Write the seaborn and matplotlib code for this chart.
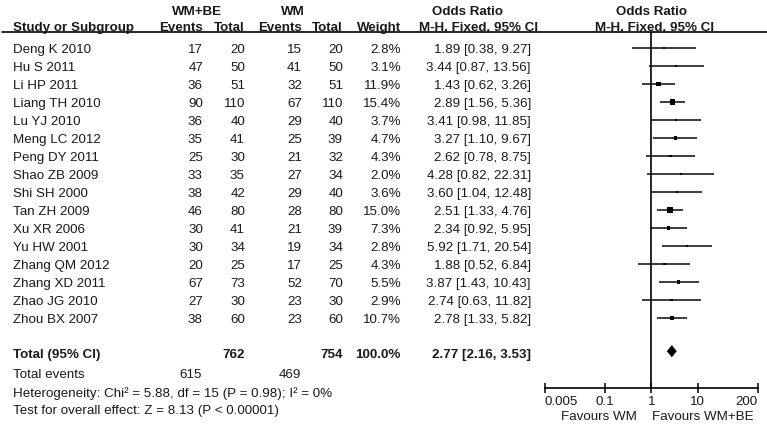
import matplotlib
matplotlib.use("Agg")
import matplotlib.pyplot as plt
import seaborn as sns
import pandas as pd
from matplotlib.transforms import blended_transform_factory

# ---------------- data ----------------
studies = ["Deng K 2010", "Hu S 2011", "Li HP 2011", "Liang TH 2010", "Lu YJ 2010",
           "Meng LC 2012", "Peng DY 2011", "Shao ZB 2009", "Shi SH 2000", "Tan ZH 2009",
           "Xu XR 2006", "Yu HW 2001", "Zhang QM 2012", "Zhang XD 2011", "Zhao JG 2010",
           "Zhou BX 2007"]
wmbe_events = [17, 47, 36, 90, 36, 35, 25, 33, 38, 46, 30, 30, 20, 67, 27, 38]
wmbe_total = [20, 50, 51, 110, 40, 41, 30, 35, 42, 80, 41, 34, 25, 73, 30, 60]
wm_events = [15, 41, 32, 67, 29, 25, 21, 27, 29, 28, 21, 19, 17, 52, 23, 23]
wm_total = [20, 50, 51, 110, 40, 39, 32, 34, 40, 80, 39, 34, 25, 70, 30, 60]
weights = [2.8, 3.1, 11.9, 15.4, 3.7, 4.7, 4.3, 2.0, 3.6, 15.0, 7.3, 2.8, 4.3, 5.5, 2.9, 10.7]
odds_ratio = [1.89, 3.44, 1.43, 2.89, 3.41, 3.27, 2.62, 4.28, 3.60, 2.51, 2.34, 5.92, 1.88, 3.87, 2.74, 2.78]
ci_low = [0.38, 0.87, 0.62, 1.56, 0.98, 1.10, 0.78, 0.82, 1.04, 1.33, 0.92, 1.71, 0.52, 1.43, 0.63, 1.33]
ci_high = [9.27, 13.56, 3.26, 5.36, 11.85, 9.67, 8.75, 22.31, 12.48, 4.76, 5.95, 20.54, 6.84, 10.43, 11.82, 5.82]

total_wmbe_n = 762
total_wm_n = 754
total_wmbe_events = 615
total_wm_events = 469
total_weight = 100.0
total_or = 2.77
total_lo = 2.16
total_hi = 3.53

heterogeneity = "Heterogeneity: Chi\u00b2 = 5.88, df = 15 (P = 0.98); I\u00b2 = 0%"
overall_test = "Test for overall effect: Z = 8.13 (P < 0.00001)"

tick_values = [0.005, 0.1, 1, 10, 200]
tick_labels = ["0.005", "0.1", "1", "10", "200"]
favours_left = "Favours WM"
favours_right = "Favours WM+BE"

# ---------------- style ----------------
sns.set_theme(style="white")
plt.rcParams["font.family"] = ["Liberation Sans", "DejaVu Sans"]
FS = 9.6
TXT = "#1a1a1a"

W, H = 767, 426
fig = plt.figure(figsize=(W / 100, H / 100), dpi=100)

row_px0, row_step = 48.0, 18.0
top_px, bottom_px = 32.3, 387.7
left_px, right_px = 544.7, 758.0


def px_to_row(p):
    return (p - row_px0) / row_step


ax = fig.add_axes([left_px / W, (H - bottom_px) / H,
                   (right_px - left_px) / W, (bottom_px - top_px) / H])
ax.set_xscale("log")
ax.set_xlim(tick_values[0], tick_values[-1])
ax.set_ylim(px_to_row(bottom_px), px_to_row(top_px))

df = pd.DataFrame({"study": studies, "or": odds_ratio, "lo": ci_low, "hi": ci_high,
                   "weight": weights})
df["row"] = range(len(df))

# CI lines
ax.hlines(df["row"], df["lo"], df["hi"], color="#111111", lw=1.15, zorder=2)
# squares
wmin, wmax = min(weights), max(weights)
smax = 15.5
sns.scatterplot(data=df, x="or", y="row", size="weight",
                sizes=(smax * wmin / wmax, smax), size_norm=(wmin, wmax),
                marker="s", color="black", linewidth=0, legend=False, ax=ax, zorder=3)

# diamond
drow = px_to_row(351.2)
dh = 0.34
ax.fill([total_lo, total_or, total_hi, total_or], [drow, drow - dh, drow, drow + dh],
        color="black", lw=0, zorder=3)

# line of no effect
ax.axvline(1, color="black", lw=1.2, zorder=1)

for s in ["top", "right", "left"]:
    ax.spines[s].set_visible(False)
ax.spines["bottom"].set_color("black")
ax.spines["bottom"].set_linewidth(1.2)
ax.set_xticks(tick_values)
ax.set_xticklabels(tick_labels)
ax.minorticks_off()
ax.set_yticks([])
ax.tick_params(axis="x", direction="inout", length=7.2, width=1.1, color="black",
               labelsize=FS, labelcolor=TXT, pad=2.4, bottom=True)
xt = ax.get_xticklabels()
xt[0].set_horizontalalignment("left")
xt[-1].set_horizontalalignment("right")
ax.set_xlabel("")
ax.set_ylabel("")

ax.annotate(favours_left, xy=(1, 0), xycoords=("data", "axes fraction"),
            xytext=(-14, -29), textcoords="offset pixels", ha="right", va="center",
            fontsize=FS, color=TXT)
ax.annotate(favours_right, xy=(1, 0), xycoords=("data", "axes fraction"),
            xytext=(1, -29), textcoords="offset pixels", ha="left", va="center",
            fontsize=FS, color=TXT)

# header line across the whole figure
tr = blended_transform_factory(fig.transFigure, ax.transData)
ax.plot([2 / W, 1.0], [px_to_row(top_px)] * 2, color="black", lw=1.2,
        transform=tr, clip_on=False)


def put(xpx, row, s, ha="right", bold=False):
    ax.text(xpx / W, row, s, transform=tr, ha=ha, va="baseline", fontsize=FS,
            color=TXT, fontweight="bold" if bold else "normal", clip_on=False)


# headers
h1 = px_to_row(15.0)
h2 = px_to_row(31.0)
put(197, h1, "WM+BE", ha="center", bold=True)
put(293, h1, "WM", ha="center", bold=True)
put(467.5, h1, "Odds Ratio", ha="center", bold=True)
put(652, h1, "Odds Ratio", ha="center", bold=True)
put(13, h2, "Study or Subgroup", ha="left", bold=True)
put(203, h2, "Events", bold=True)
put(245, h2, "Total", bold=True)
put(302, h2, "Events", bold=True)
put(343, h2, "Total", bold=True)
put(401, h2, "Weight", bold=True)
put(479, h2, "M-H, Fixed, 95% CI", ha="center", bold=True)
put(655, h2, "M-H, Fixed, 95% CI", ha="center", bold=True)

# study rows
base_off = 5.3 / row_step
for i, name in enumerate(studies):
    r = i + base_off
    put(13, r, name, ha="left")
    put(203, r, f"{wmbe_events[i]}")
    put(245, r, f"{wmbe_total[i]}")
    put(302, r, f"{wm_events[i]}")
    put(343, r, f"{wm_total[i]}")
    put(401, r, f"{weights[i]:.1f}%")
    put(531, r, f"{odds_ratio[i]:.2f} [{ci_low[i]:.2f}, {ci_high[i]:.2f}]")

# totals
rt = px_to_row(358.3)
put(13, rt, "Total (95% CI)", ha="left", bold=True)
put(245, rt, f"{total_wmbe_n}", bold=True)
put(343, rt, f"{total_wm_n}", bold=True)
put(401, rt, f"{total_weight:.1f}%", bold=True)
put(531, rt, f"{total_or:.2f} [{total_lo:.2f}, {total_hi:.2f}]", bold=True)

re = px_to_row(377.7)
put(13, re, "Total events", ha="left")
put(202, re, f"{total_wmbe_events}")
put(301, re, f"{total_wm_events}")
put(13, px_to_row(396.7), heterogeneity, ha="left")
put(13, px_to_row(414.3), overall_test, ha="left")

fig.savefig("out.png", dpi=100, facecolor="white")
